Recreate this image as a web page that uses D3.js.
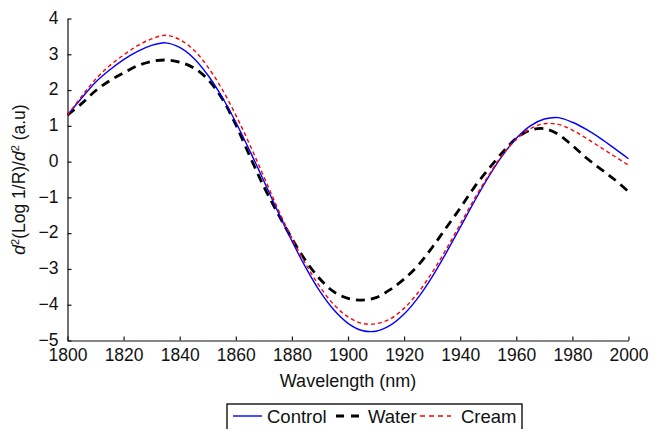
<!DOCTYPE html>
<html>
<head>
<meta charset="utf-8">
<script src="https://cdn.jsdelivr.net/npm/d3@7"></script>
<style>
  body { margin: 0; background: #fff; }
  svg text { font-family: "Liberation Sans", Arial, Helvetica, sans-serif; fill: #111; }
</style>
</head>
<body>
<div id="chart"></div>
<script>
const wavelengths = [1800, 1805, 1810, 1815, 1820, 1825, 1830, 1835, 1840, 1845,
  1850, 1855, 1860, 1865, 1870, 1875, 1880, 1885, 1890, 1895,
  1900, 1905, 1910, 1915, 1920, 1925, 1930, 1935, 1940, 1945,
  1950, 1955, 1960, 1965, 1970, 1975, 1980, 1985, 1990, 1995, 2000];

const control = [1.30, 1.77, 2.22, 2.56, 2.85, 3.08, 3.25, 3.32, 3.19, 2.89,
  2.42, 1.82, 1.10, 0.30, -0.54, -1.40, -2.22, -2.97, -3.63, -4.15,
  -4.52, -4.72, -4.74, -4.58, -4.26, -3.80, -3.22, -2.55, -1.84, -1.12,
  -0.44, 0.16, 0.65, 1.00, 1.19, 1.23, 1.10, 0.90, 0.65, 0.37, 0.08];

const water = [1.30, 1.62, 1.98, 2.26, 2.48, 2.68, 2.80, 2.84, 2.78, 2.62,
  2.30, 1.78, 1.03, 0.15, -0.70, -1.45, -2.15, -2.78, -3.28, -3.64,
  -3.82, -3.87, -3.80, -3.58, -3.28, -2.90, -2.40, -1.85, -1.30, -0.72,
  -0.22, 0.25, 0.65, 0.88, 0.92, 0.76, 0.45, 0.10, -0.20, -0.50, -0.84];

const cream = [1.30, 1.82, 2.30, 2.68, 2.98, 3.24, 3.43, 3.53, 3.41, 3.12,
  2.65, 2.04, 1.30, 0.47, -0.42, -1.32, -2.14, -2.87, -3.50, -4.00,
  -4.34, -4.52, -4.53, -4.40, -4.10, -3.66, -3.10, -2.45, -1.75, -1.05,
  -0.40, 0.18, 0.62, 0.92, 1.06, 1.04, 0.88, 0.65, 0.40, 0.15, -0.10];

const xTicks = [1800, 1820, 1840, 1860, 1880, 1900, 1920, 1940, 1960, 1980, 2000];
const yTicks = [-5, -4, -3, -2, -1, 0, 1, 2, 3, 4];

const width = 657;
const height = 429;
const margin = { top: 18.5, right: 28.5, bottom: 88.5, left: 67.5 };

const svg = d3.select("#chart")
    .append("svg")
    .attr("width", width)
    .attr("height", height);

const x = d3.scaleLinear()
    .domain([1800, 2000])
    .range([margin.left, width - margin.right]);
const y = d3.scaleLinear()
    .domain([-5, 4])
    .range([height - margin.bottom, margin.top]);

// axes, ticks point inward
const xAxis = svg.append("g")
    .attr("transform", `translate(0,${height - margin.bottom})`)
    .call(d3.axisBottom(x).tickValues(xTicks).tickFormat(d3.format("d"))
        .tickSizeInner(-4).tickSizeOuter(0).tickPadding(8.5));
const yAxis = svg.append("g")
    .attr("transform", `translate(${margin.left},0)`)
    .call(d3.axisLeft(y).tickValues(yTicks)
        .tickSizeInner(-4).tickSizeOuter(0).tickPadding(9));

[xAxis, yAxis].forEach(g => {
    g.selectAll("path, line").attr("stroke", "#111").attr("stroke-width", 1.2);
    g.selectAll("text").style("font-size", "17.5px").attr("fill", "#111");
});
yAxis.selectAll("text").attr("dy", "0.27em");

// axis titles
svg.append("text")
    .attr("x", x(1900))
    .attr("y", 387)
    .attr("text-anchor", "middle")
    .style("font-size", "18px")
    .text("Wavelength (nm)");

const yTitle = svg.append("text")
    .attr("transform", `translate(25,${y(-0.5)}) rotate(-90)`)
    .attr("text-anchor", "middle")
    .style("font-size", "17.5px");
yTitle.append("tspan").style("font-style", "italic").text("d");
yTitle.append("tspan").attr("baseline-shift", "super").style("font-size", "11px").text("2");
yTitle.append("tspan").text("(Log 1/R)/");
yTitle.append("tspan").style("font-style", "italic").text("d");
yTitle.append("tspan").attr("baseline-shift", "super").style("font-size", "11px").text("2");
yTitle.append("tspan").text(" (a.u)");

// series
const series = [
    { name: "Control", values: control, color: "#0000ff", width: 1.4, dash: null },
    { name: "Water", values: water, color: "#000000", width: 2.8, dash: "9,6" },
    { name: "Cream", values: cream, color: "#ff0000", width: 1.4, dash: "4,3" }
];

const line = d3.line()
    .x((d, i) => x(wavelengths[i]))
    .y(d => y(d))
    .curve(d3.curveCatmullRom.alpha(0.5));

// draw water first, then control, cream on top
[series[1], series[0], series[2]].forEach(s => {
    svg.append("path")
        .datum(s.values)
        .attr("d", line)
        .attr("fill", "none")
        .attr("stroke", s.color)
        .attr("stroke-width", s.width)
        .attr("stroke-dasharray", s.dash);
});

// legend
const legend = svg.append("g");
legend.append("rect")
    .attr("x", 227)
    .attr("y", 404)
    .attr("width", 295)
    .attr("height", 30)
    .attr("fill", "#fff")
    .attr("stroke", "#111")
    .attr("stroke-width", 1.4);

const legendPos = [
    { x1: 233, x2: 262, tx: 267 },
    { x1: 336, x2: 361, tx: 368 },
    { x1: 420, x2: 451, tx: 461 }
];
series.forEach((s, i) => {
    const p = legendPos[i];
    legend.append("line")
        .attr("x1", p.x1).attr("x2", p.x2)
        .attr("y1", 416).attr("y2", 416)
        .attr("stroke", s.color)
        .attr("stroke-width", s.width)
        .attr("stroke-dasharray", s.name === "Water" ? "8,7" : (s.name === "Cream" ? "5,4" : null));
    legend.append("text")
        .attr("x", p.tx)
        .attr("y", 422.5)
        .style("font-size", "18.5px")
        .text(s.name);
});
</script>
</body>
</html>
